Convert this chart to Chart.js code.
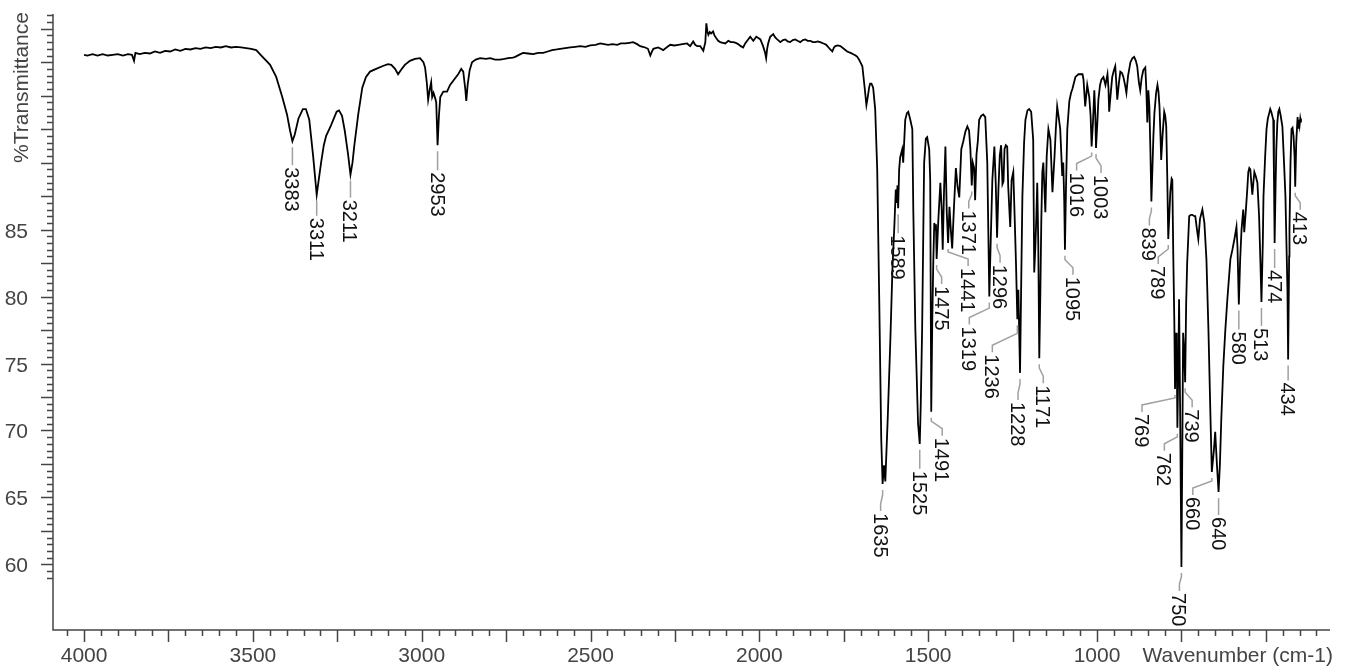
<!DOCTYPE html>
<html>
<head>
<meta charset="utf-8">
<script src="https://cdn.jsdelivr.net/npm/chart.js@4.4.0/dist/chart.umd.min.js"></script>
<style>
  html, body { margin: 0; padding: 0; background: #fff; }
  #wrap { position: relative; width: 1351px; height: 666px; }
</style>
</head>
<body>
<div id="wrap"><canvas id="chart"></canvas></div>
<script>
// IR spectrum
const wavenumber = [
  4000, 3990, 3975, 3960, 3945, 3930, 3915, 3900, 3885, 3870, 3858, 3852, 3848, 3835, 3820, 3805, 3790, 3775, 3760, 3745,
  3730, 3715, 3700, 3685, 3670, 3655, 3640, 3625, 3610, 3595, 3580, 3565, 3550, 3535, 3520, 3505, 3490, 3475, 3460, 3449,
  3431, 3413, 3399, 3390, 3383, 3376, 3365, 3352, 3343, 3333, 3322, 3311, 3304, 3298, 3290, 3283, 3270, 3262, 3252, 3245,
  3236, 3228, 3218, 3211, 3205, 3200, 3188, 3176, 3165, 3153, 3135, 3117, 3100, 3090, 3079, 3070, 3062, 3050, 3035, 3020,
  3005, 2995, 2990, 2985, 2981, 2976, 2972, 2969, 2965, 2960, 2957, 2953, 2949, 2945, 2936, 2925, 2916, 2901, 2892, 2883,
  2877, 2871, 2868, 2864, 2858, 2851, 2840, 2827, 2810, 2797, 2783, 2768, 2755, 2744, 2730, 2723, 2712, 2700, 2685, 2670,
  2655, 2640, 2627, 2614, 2600, 2590, 2575, 2560, 2545, 2531, 2515, 2501, 2485, 2471, 2460, 2448, 2435, 2421, 2410, 2397,
  2385, 2374, 2362, 2353, 2345, 2338, 2330, 2323, 2318, 2314, 2300, 2292, 2285, 2275, 2264, 2252, 2240, 2228, 2214, 2205,
  2196, 2190, 2184, 2175, 2166, 2160, 2157, 2154, 2151, 2147, 2143, 2137, 2133, 2128, 2122, 2116, 2108, 2101, 2092, 2085,
  2077, 2070, 2063, 2055, 2048, 2042, 2036, 2027, 2018, 2009, 2003, 1997, 1989, 1983, 1980, 1977, 1974, 1968, 1959, 1953,
  1947, 1938, 1930, 1923, 1916, 1909, 1901, 1894, 1887, 1879, 1871, 1864, 1857, 1849, 1842, 1834, 1827, 1820, 1810, 1802,
  1795, 1790, 1784, 1779, 1775, 1768, 1760, 1750, 1740, 1730, 1722, 1715, 1710, 1705, 1701, 1695, 1689, 1683, 1679, 1675,
  1672, 1668, 1663, 1657, 1651, 1645, 1639, 1635, 1631, 1627, 1620, 1612, 1606, 1600, 1596, 1593, 1591, 1589, 1586, 1583,
  1577, 1574, 1568, 1563, 1559, 1553, 1547, 1544, 1538, 1530, 1525, 1522, 1518, 1512, 1507, 1503, 1497, 1494, 1491, 1488,
  1485, 1482, 1479, 1477, 1475, 1470, 1464, 1460, 1457, 1453, 1449, 1445, 1441, 1437, 1433, 1429, 1424, 1418, 1413, 1408,
  1402, 1396, 1390, 1384, 1379, 1375, 1371, 1368, 1364, 1361, 1357, 1353, 1349, 1343, 1337, 1331, 1325, 1322, 1319, 1315,
  1310, 1304, 1300, 1296, 1292, 1288, 1284, 1280, 1277, 1274, 1270, 1266, 1263, 1257, 1253, 1248, 1244, 1240, 1236, 1233,
  1228, 1224, 1221, 1216, 1212, 1206, 1201, 1195, 1189, 1186, 1183, 1180, 1177, 1174, 1171, 1168, 1165, 1162, 1159, 1153,
  1149, 1144, 1138, 1132, 1126, 1122, 1118, 1114, 1109, 1103, 1100, 1097, 1095, 1092, 1088, 1082, 1077, 1073, 1064, 1055,
  1048, 1043, 1040, 1035, 1029, 1023, 1019, 1016, 1012, 1008, 1005, 1003, 999, 996, 991, 987, 981, 975, 969, 966,
  964, 960, 955, 950, 946, 943, 940, 935, 931, 926, 922, 917, 913, 908, 901, 895, 890, 885, 881, 876,
  872, 868, 863, 857, 854, 851, 848, 845, 842, 839, 836, 833, 830, 825, 821, 818, 815, 812, 810, 806,
  801, 798, 795, 792, 789, 786, 783, 779, 777, 774, 771, 769, 766, 764, 762, 759, 757, 754, 750, 747,
  745, 742, 739, 736, 733, 727, 722, 718, 712, 709, 704, 700, 695, 688, 682, 676, 670, 664, 660, 654,
  650, 645, 640, 636, 632, 626, 620, 614, 605, 599, 593, 587, 584, 580, 576, 572, 567, 564, 559, 555,
  552, 549, 546, 543, 540, 537, 534, 530, 525, 520, 516, 513, 509, 507, 502, 498, 494, 490, 487, 484,
  480, 478, 476, 474, 471, 469, 466, 463, 460, 456, 451, 447, 442, 439, 436, 434, 431, 430, 427, 424,
  421, 418, 415, 413, 410, 406, 404, 402, 400, 398, 396
];
const transmittance = [
  98.05, 98.0, 98.1, 98.0, 98.1, 98.0, 98.05, 98.1, 98.0, 98.1, 98.05, 97.6, 98.2, 98.1, 98.2, 98.15, 98.3, 98.2, 98.35, 98.3,
  98.45, 98.35, 98.5, 98.45, 98.55, 98.5, 98.6, 98.55, 98.65, 98.6, 98.7, 98.6, 98.65, 98.6, 98.55, 98.5, 98.4, 98.0, 97.6, 97.3,
  96.4, 94.9, 93.6, 92.4, 91.6, 92.1, 93.3, 94.0, 94.0, 93.2, 90.6, 87.6, 88.9, 90.0, 91.3, 92.0, 92.7, 93.2, 93.8, 93.9,
  93.5, 92.4, 90.6, 89.1, 90.0, 91.2, 93.6, 95.6, 96.4, 96.8, 97.0, 97.2, 97.35, 97.3, 97.0, 96.6, 96.9, 97.3, 97.6, 97.75,
  97.8, 97.5, 97.1, 96.0, 94.7, 95.5, 96.0, 94.9, 95.2, 94.8, 94.5, 91.3, 93.5, 94.9, 95.3, 95.3, 95.8, 96.3, 96.6, 97.0,
  96.8, 95.5, 94.6, 95.8, 96.9, 97.5, 97.7, 97.8, 97.75, 97.8, 97.7, 97.7, 97.75, 97.8, 97.85, 97.9, 98.05, 98.2, 98.15, 98.1,
  98.2, 98.2, 98.3, 98.4, 98.45, 98.5, 98.55, 98.6, 98.65, 98.7, 98.65, 98.75, 98.8, 98.9, 98.85, 98.8, 98.85, 98.8, 98.9, 98.9,
  98.95, 99.0, 98.85, 98.7, 98.65, 98.6, 98.5, 98.0, 98.3, 98.5, 98.6, 98.5, 98.4, 98.6, 98.8, 98.75, 98.8, 98.85, 98.9, 98.7,
  99.05, 98.8, 98.7, 98.7, 98.35, 99.0, 100.4, 99.8, 99.55, 99.75, 99.65, 99.8, 99.5, 99.3, 99.1, 99.0, 98.95, 98.9, 99.1, 99.0,
  99.0, 98.95, 98.85, 98.7, 98.6, 98.9, 99.1, 99.4, 99.1, 99.4, 99.3, 99.2, 98.7, 98.2, 97.8, 98.5, 98.9, 99.4, 99.6, 99.35,
  99.2, 99.0, 99.15, 99.2, 99.05, 99.0, 99.15, 99.2, 99.1, 99.0, 99.15, 99.2, 99.1, 99.1, 99.0, 99.0, 99.05, 99.0, 98.9, 98.8,
  98.6, 98.45, 98.3, 98.6, 98.7, 98.75, 98.7, 98.5, 98.3, 98.2, 98.1, 98.0, 97.9, 97.7, 97.5, 97.2, 95.8, 94.3, 94.9, 95.6,
  95.9, 95.9, 95.6, 94.0, 89.5, 79.8, 69.3, 66.0, 67.4, 66.2, 70.8, 76.8, 82.0, 85.4, 88.0, 87.0, 88.3, 86.6, 89.5, 90.4,
  91.0, 90.0, 93.2, 93.7, 93.8, 93.2, 92.5, 86.3, 77.5, 70.5, 69.0, 72.0, 77.5, 90.0, 91.8, 91.9, 91.0, 88.7, 71.4, 78.0,
  82.5, 85.5, 85.0, 85.4, 82.8, 85.7, 88.5, 86.5, 83.5, 88.0, 91.2, 86.3, 84.0, 86.7, 85.0, 83.6, 86.5, 89.6, 88.2, 87.4,
  91.0, 91.6, 92.3, 92.7, 92.4, 91.0, 88.3, 90.0, 89.6, 87.2, 90.6, 91.6, 93.2, 93.5, 93.6, 93.4, 90.0, 85.0, 80.0, 84.0,
  88.7, 91.2, 88.5, 84.4, 88.0, 90.5, 91.3, 88.4, 88.6, 91.0, 91.3, 91.2, 88.2, 85.2, 88.7, 89.3, 86.0, 82.5, 78.3, 80.5,
  74.3, 82.0, 87.5, 91.5, 93.2, 93.9, 94.0, 93.8, 91.7, 81.8, 83.5, 85.7, 88.5, 84.0, 75.4, 80.0, 85.7, 89.3, 90.0, 86.3,
  90.5, 92.5, 91.7, 87.8, 90.4, 92.5, 94.2, 93.5, 92.5, 89.0, 90.0, 87.0, 83.5, 88.0, 92.5, 94.6, 95.2, 95.5, 96.4, 96.6,
  96.6, 96.6, 96.2, 94.2, 95.8, 94.9, 93.5, 91.2, 93.0, 95.4, 93.5, 91.1, 93.0, 94.7, 95.8, 96.2, 96.4, 95.8, 96.6, 95.5,
  93.8, 95.0, 96.4, 96.9, 97.2, 96.0, 94.7, 96.0, 96.8, 96.7, 96.4, 95.8, 95.2, 96.5, 97.5, 97.8, 97.9, 97.6, 97.2, 96.0,
  95.4, 96.3, 96.9, 97.1, 95.5, 93.0, 95.4, 94.2, 91.0, 87.1, 89.5, 92.0, 93.7, 95.2, 95.8, 95.3, 94.2, 92.0, 90.2, 92.0,
  93.8, 93.5, 92.7, 89.0, 84.3, 86.0, 87.8, 88.8, 88.7, 82.8, 78.0, 73.1, 77.3, 76.0, 70.2, 75.0, 79.8, 72.0, 59.8, 70.0,
  77.3, 76.0, 73.6, 79.5, 82.5, 86.0, 86.1, 86.1, 86.0, 86.0, 85.0, 84.3, 85.8, 86.5, 85.5, 82.8, 77.5, 71.0, 66.9, 68.5,
  69.9, 67.5, 65.4, 67.5, 70.8, 74.8, 77.5, 79.8, 82.8, 83.5, 84.3, 85.2, 83.7, 79.4, 82.8, 85.0, 86.5, 84.8, 86.5, 88.0,
  89.3, 89.6, 89.5, 88.5, 87.6, 88.5, 89.3, 89.0, 88.5, 86.0, 82.5, 79.6, 84.0, 87.5, 90.5, 92.5, 93.3, 93.7, 94.0, 93.8,
  93.4, 93.2, 89.0, 84.0, 88.5, 91.0, 93.0, 93.8, 94.0, 93.5, 92.7, 90.5, 87.5, 84.0, 80.5, 75.3, 83.0, 85.0, 90.0, 92.5,
  92.6, 92.0, 90.5, 88.2, 91.5, 93.4, 92.6, 93.2, 92.8, 93.3, 93.0
];

// labelled peaks, with the label nudges used in the picture (px)
const peakWavenumbers = [3383, 3311, 3211, 2953, 1635, 1589, 1525, 1491, 1475, 1441, 1371, 1319, 1296, 1236, 1228, 1171,
  1095, 1016, 1003, 839, 789, 769, 762, 750, 739, 660, 640, 580, 513, 474, 434, 413];
const labelShift = [0, 0, 0, 0, -2, 0, 0, 11, 5, 20, -3, -20, 3, -25, -2, 4,
  8, -15, 5, -2, -10, -33, -13, -2, 7, -19, 0, 0, 0, 0, 0, 5];
const labelDrop = [1, -2, 0, 2, 4, 2, 2, 1, 2, 0, 0, 5, 2, 10, 4, 2,
  2, 1, 2, 1, 2, 0, 0, 1, 2, 0, 0, 2, 1, 2, -2, 0];

const yTickLabels = [60, 65, 70, 75, 80, 85];
const xTickLabels = [4000, 3500, 3000, 2500, 2000, 1500, 1000];
const xTitle = 'Wavenumber (cm-1)';
const yTitle = '%Transmittance';

const FONT = '"Liberation Sans", Arial, sans-serif';
const AXIS = '#444444';

// peak depth looked up from the series
function peakValue(w) {
  let best = 0, bd = Infinity;
  for (let i = 0; i < wavenumber.length; i++) {
    const d = Math.abs(wavenumber[i] - w);
    if (d < bd) { bd = d; best = i; }
  }
  return transmittance[best];
}

const axesPlugin = {
  id: 'spectrumAxes',
  afterDraw(chart) {
    const ctx = chart.ctx;
    const xs = chart.scales.x, ys = chart.scales.y;
    const a = chart.chartArea;
    ctx.save();

    // axis lines
    ctx.strokeStyle = AXIS;
    ctx.lineWidth = 1.5;
    ctx.beginPath();
    ctx.moveTo(a.left, a.top);
    ctx.lineTo(a.left, a.bottom);
    ctx.lineTo(a.right, a.bottom);
    ctx.stroke();

    // y ticks every 0.5, long every 2.5
    ctx.beginPath();
    for (let i = 118; i <= 202; i++) {
      const py = Math.round(ys.getPixelForValue(i / 2)) + 0.5;
      const len = i % 5 === 0 ? 12 : 6;
      ctx.moveTo(a.left - len, py);
      ctx.lineTo(a.left, py);
    }
    // x ticks every 50, long every 250
    for (let v = 350; v <= 4050; v += 50) {
      const px = Math.round(xs.getPixelForValue(v)) + 0.5;
      const len = v % 250 === 0 ? 12 : 6;
      ctx.moveTo(px, a.bottom);
      ctx.lineTo(px, a.bottom + len);
    }
    ctx.stroke();

    // tick labels
    ctx.fillStyle = AXIS;
    ctx.font = '21px ' + FONT;
    ctx.textBaseline = 'alphabetic';
    ctx.textAlign = 'right';
    yTickLabels.forEach(v => {
      ctx.fillText(String(v), a.left - 25, ys.getPixelForValue(v) + 8);
    });
    ctx.textAlign = 'center';
    xTickLabels.forEach(v => {
      ctx.fillText(String(v), xs.getPixelForValue(v), a.bottom + 32);
    });
    ctx.textAlign = 'right';
    ctx.fillText(xTitle, a.right + 3, a.bottom + 32);

    // y title, rotated, at the top
    ctx.save();
    ctx.translate(a.left - 25, a.top + 149);
    ctx.rotate(-Math.PI / 2);
    ctx.textAlign = 'left';
    ctx.fillText(yTitle, 0, 0);
    ctx.restore();

    // peak labels with leader lines
    ctx.font = '20px ' + FONT;
    peakWavenumbers.forEach((w, k) => {
      const px = xs.getPixelForValue(w);
      const py = ys.getPixelForValue(peakValue(w));
      const lx = px + labelShift[k];
      const drop = labelDrop[k];
      ctx.strokeStyle = '#a0a0a0';
      ctx.lineWidth = 1.5;
      ctx.beginPath();
      if (labelShift[k] === 0) {
        ctx.moveTo(px, py + 6);
        ctx.lineTo(px, py + 23 + drop);
      } else {
        ctx.moveTo(px, py + 6);
        ctx.lineTo(px, py + 9 + drop / 2);
        ctx.lineTo(lx, py + 16 + drop);
        ctx.lineTo(lx, py + 23 + drop);
      }
      ctx.stroke();
      ctx.save();
      ctx.translate(lx - 7, py + 25 + drop);
      ctx.rotate(Math.PI / 2);
      ctx.fillStyle = '#111';
      ctx.textAlign = 'left';
      ctx.textBaseline = 'alphabetic';
      ctx.fillText(String(w), 0, 0);
      ctx.restore();
    });

    ctx.restore();
  }
};

const points = wavenumber.map((w, i) => ({ x: w, y: transmittance[i] }));

new Chart(document.getElementById('chart'), {
  type: 'line',
  data: {
    datasets: [{
      data: points,
      borderColor: '#000',
      borderWidth: 1.8,
      pointRadius: 0,
      tension: 0,
      fill: false
    }]
  },
  options: {
    responsive: true,
    maintainAspectRatio: false,
    animation: false,
    layout: { padding: { left: 53, right: 21, top: 14, bottom: 36 } },
    plugins: { legend: { display: false }, tooltip: { enabled: false } },
    scales: {
      x: { type: 'linear', reverse: true, min: 310, max: 4092, display: false },
      y: { type: 'linear', min: 55.1, max: 101.1, display: false }
    }
  },
  plugins: [axesPlugin]
});
</script>
</body>
</html>
